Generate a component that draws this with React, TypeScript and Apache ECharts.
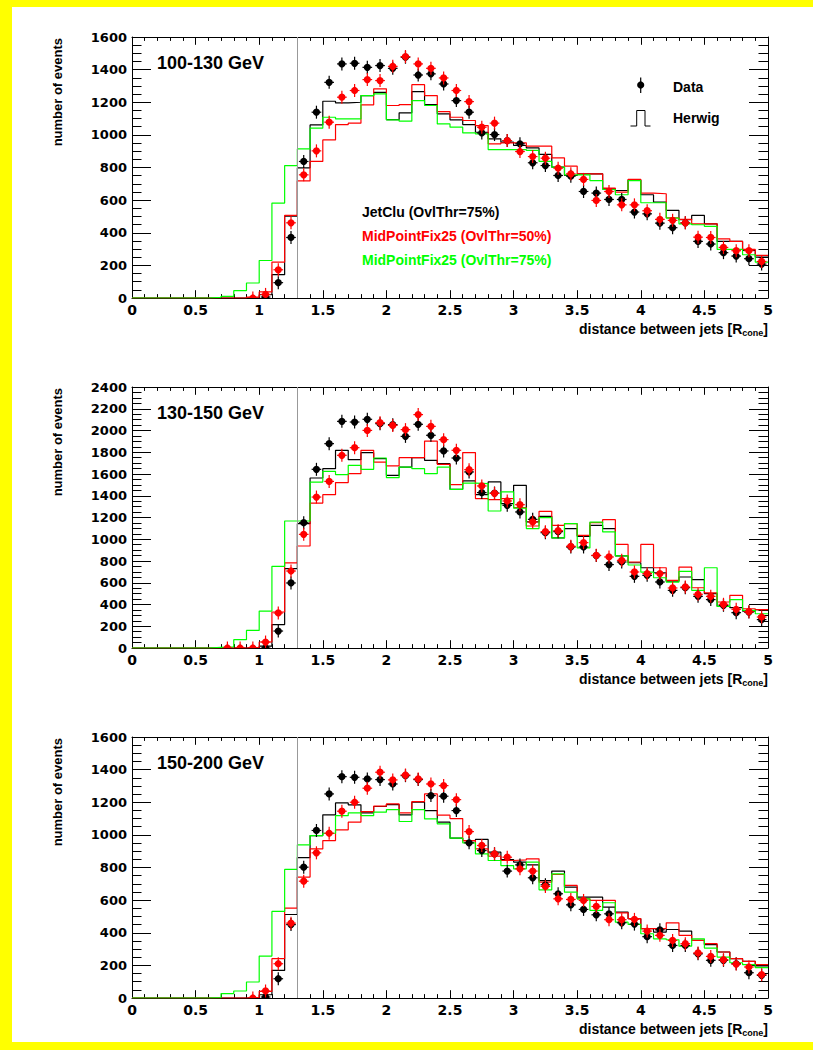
import React, { useEffect, useRef } from "react";
import * as echarts from "echarts";

// ---------- DATA ----------
const BIN_EDGES = [0, 0.1, 0.2, 0.3, 0.4, 0.5, 0.6, 0.7, 0.8, 0.9, 1.0, 1.1, 1.2, 1.3, 1.4, 1.5, 1.6, 1.7, 1.8, 1.9, 2.0, 2.1, 2.2, 2.3, 2.4, 2.5, 2.6, 2.7, 2.8, 2.9, 3.0, 3.1, 3.2, 3.3, 3.4, 3.5, 3.6, 3.7, 3.8, 3.9, 4.0, 4.1, 4.2, 4.3, 4.4, 4.5, 4.6, 4.7, 4.8, 4.9, 5.0];
const POINT_X = [0.75, 0.85, 0.95, 1.05, 1.15, 1.25, 1.35, 1.45, 1.55, 1.65, 1.75, 1.85, 1.95, 2.05, 2.15, 2.25, 2.35, 2.45, 2.55, 2.65, 2.75, 2.85, 2.95, 3.05, 3.15, 3.25, 3.35, 3.45, 3.55, 3.65, 3.75, 3.85, 3.95, 4.05, 4.15, 4.25, 4.35, 4.45, 4.55, 4.65, 4.75, 4.85, 4.95];
const X_TICKS = [0, 0.5, 1, 1.5, 2, 2.5, 3, 3.5, 4, 4.5, 5];
const PANEL_LABELS = ["100-130 GeV", "130-150 GeV", "150-200 GeV"];
const Y_MAX = [1600, 2400, 1600];
const CUT_X = 1.3;
const LEGEND_LABELS = ["JetClu (OvlThr=75%)", "MidPointFix25 (OvlThr=50%)", "MidPointFix25 (OvlThr=75%)"];

// Herwig histograms (one value per bin)
const P1_HERWIG_JETCLU = [0,0,0,0,0,0,0,0,0,0, 20,143,502,798,1061,1206,1196,1200,1241,1261, 1094,1135,1265,1186,1129,1092,1063,1016,976,955, 935,920,880,802,751,761,761,669,659,724, 633,588,537,480,506,455,347,347,292,251];
const P1_HERWIG_MP50 = [0,0,0,0,0,0,0,0,0,5, 37,220,506,718,837,969,1063,1072,1184,1282, 1180,1186,1308,1241,1143,1108,1088,1057,945,951, 951,931,931,859,808,761,761,673,649,727, 643,639,492,482,455,455,363,347,298,261];
const P1_HERWIG_MP75 = [0,0,0,0,0,0,4,10,45,92, 230,582,812,914,1041,1108,1098,1098,1241,1251, 1092,1084,1210,1180,1067,1047,1012,1006,910,910, 910,905,837,802,755,755,720,665,633,720, 584,584,490,455,449,439,298,298,265,220];

const P2_HERWIG_JETCLU = [0,0,0,0,0,0,0,0,0,0, 18,215,729,1143,1563,1649,1818,1732,1796,1741, 1588,1664,1750,1726,1695,1459,1536,1410,1527,1328, 1496,1159,1211,1012,1098,1027,1128,1098,848,784, 738,692,615,653,628,500,383,371,340,352];
const P2_HERWIG_MP50 = [0,0,0,0,0,0,0,0,0,5, 55,331,782,938,1333,1410,1521,1603,1818,1710, 1674,1750,1750,1903,1689,1502,1797,1374,1365,1374, 1290,1122,1257,1128,1143,1035,1152,1180,952,791, 952,738,621,744,554,506,423,484,361,352];
const P2_HERWIG_MP75 = [0,0,0,0,0,0,5,10,77,162, 340,751,1168,1168,1526,1625,1594,1680,1643,1747, 1566,1664,1649,1603,1664,1459,1517,1511,1260,1435, 1287,1098,1199,1012,1143,920,1158,1067,848,763, 698,646,606,704,530,738,383,444,346,315];

const P3_HERWIG_JETCLU = [0,0,0,0,0,0,0,0,0,0, 20,169,512,861,996,1123,1196,1184,1135,1174, 1186,1123,1200,1149,1078,980,965,972,894,849, 833,816,720,778,680,618,618,557,527,486, 425,404,420,410,353,327,282,241,225,190];
const P3_HERWIG_MP50 = [0,0,0,0,0,0,0,0,0,3, 41,241,551,741,914,965,1031,1078,1143,1176, 1190,1135,1204,1251,1121,1100,965,914,870,843, 847,853,710,757,690,608,598,598,522,486, 425,425,461,384,353,333,282,241,225,204];
const P3_HERWIG_MP75 = [0,0,0,0,0,0,2,27,43,98, 257,531,788,939,996,1010,1118,1135,1118,1139, 1155,1082,1155,1098,1067,980,951,884,843,812, 792,833,663,761,649,608,537,584,465,451, 394,363,357,318,363,306,251,216,204,186];

// Data points (at POINT_X)
const P1_DATA_JETCLU = [null, null, null, 6, 94, 371, 837, 1139, 1322, 1435, 1439, 1414, 1425, 1408, 1476, 1367, 1374, 1312, 1210, 1139, 1012, 1002, 965, 945, 829, 812, 751, 747, 653, 643, 604, 604, 527, 516, 459, 431, 461, 347, 331, 278, 257, 241, 208];
const P1_DATA_MP50 = [null, null, 0, 22, 173, 461, 755, 902, 1078, 1231, 1272, 1339, 1333, 1420, 1480, 1435, 1408, 1349, 1272, 1204, 1047, 1072, 965, 898, 867, 857, 796, 761, 727, 598, 653, 571, 571, 535, 482, 476, 461, 373, 371, 310, 290, 290, 224];
const P2_DATA_JETCLU = [null, null, null, 0, 156, 598, 1152, 1643, 1879, 2084, 2078, 2103, 2063, 2054, 1946, 2057, 1956, 1812, 1747, 1619, 1429, 1425, 1312, 1251, 1183, 1060, 1070, 929, 929, 850, 767, 791, 659, 668, 607, 530, 555, 475, 445, 393, 325, 330, 261];
const P2_DATA_MP50 = [0, 0, 0, 55, 322, 708, 1045, 1388, 1532, 1772, 1842, 2001, 2072, 2047, 2008, 2146, 2038, 1916, 1818, 1640, 1490, 1422, 1352, 1318, 1159, 1070, 1079, 935, 969, 852, 837, 806, 699, 684, 684, 552, 561, 494, 475, 402, 356, 334, 285];
const P3_DATA_JETCLU = [null, null, null, 6, 118, 450, 802, 1027, 1251, 1357, 1353, 1343, 1339, 1312, 1363, 1339, 1241, 1237, 1149, 951, 904, 884, 778, 816, 737, 694, 639, 571, 543, 510, 516, 461, 453, 376, 418, 322, 322, 271, 231, 231, 210, 155, 139];
const P3_DATA_MP50 = [null, null, 0, 43, 210, 459, 716, 890, 1010, 1145, 1200, 1286, 1384, 1337, 1367, 1343, 1312, 1302, 1216, 1020, 935, 884, 863, 792, 778, 684, 608, 604, 598, 561, 480, 480, 482, 410, 384, 353, 333, 276, 255, 235, 208, 190, 143];

const HISTS = [
  [P1_HERWIG_JETCLU, P1_HERWIG_MP50, P1_HERWIG_MP75],
  [P2_HERWIG_JETCLU, P2_HERWIG_MP50, P2_HERWIG_MP75],
  [P3_HERWIG_JETCLU, P3_HERWIG_MP50, P3_HERWIG_MP75],
];
const POINTS = [
  [P1_DATA_JETCLU, P1_DATA_MP50],
  [P2_DATA_JETCLU, P2_DATA_MP50],
  [P3_DATA_JETCLU, P3_DATA_MP50],
];

// ---------- STYLE ----------
const HIST_COLORS = ["#000000", "#ff0000", "#00ff00"];
const POINT_COLORS = ["#000000", "#ff0000"];
const FRAME_COLOR = "#ffff00";
const GRID_LEFT = 132;
const GRID_WIDTH = 636;
const GRID_HEIGHT = 261;
const GRID_TOPS = [37, 387, 737];
const ARIAL = '"Liberation Sans", Arial, Helvetica, sans-serif';
const DEJAVU = '"DejaVu Sans", sans-serif';

function measure(text: string, font: string): number {
  const c = document.createElement("canvas").getContext("2d");
  if (!c) return text.length * 7;
  c.font = font;
  return c.measureText(text).width;
}

export default function App() {
  const ref = useRef<HTMLDivElement>(null);

  useEffect(() => {
    document.body.style.margin = "0";
    document.body.style.overflow = "hidden";
    document.body.style.background = "#ffffff";
    if (!ref.current) return;
    const chart = echarts.init(ref.current, null, { renderer: "svg" });

    const grids: any[] = [];
    const xAxes: any[] = [];
    const yAxes: any[] = [];
    const series: any[] = [];
    const graphics: any[] = [];

    // yellow frame: left, top, bottom bands
    graphics.push({ type: "rect", z: -10, silent: true, shape: { x: 0, y: 0, width: 12, height: 1050 }, style: { fill: FRAME_COLOR } });
    graphics.push({ type: "rect", z: -10, silent: true, shape: { x: 0, y: 0, width: 813, height: 7 }, style: { fill: FRAME_COLOR } });
    graphics.push({ type: "rect", z: -10, silent: true, shape: { x: 0, y: 1042, width: 813, height: 8 }, style: { fill: FRAME_COLOR } });

    const axisLine = { show: true, onZero: false, lineStyle: { color: "#000", width: 1 } };

    for (let g = 0; g < 3; g++) {
      const top = GRID_TOPS[g];
      grids.push({ left: GRID_LEFT, top, width: GRID_WIDTH, height: GRID_HEIGHT, containLabel: false });
      const xb = xAxes.length;
      xAxes.push({
        gridIndex: g, type: "value", min: 0, max: 5, interval: 0.5, position: "bottom",
        axisLine, splitLine: { show: false },
        axisTick: { show: true, inside: true, length: 7.8, lineStyle: { color: "#000" } },
        minorTick: { show: true, splitNumber: 5, length: 3.9, lineStyle: { color: "#000" } },
        axisLabel: { show: true, margin: 5, color: "#000", fontFamily: DEJAVU, fontWeight: "bold", fontSize: 14, showMinLabel: true, showMaxLabel: true,
          formatter: (v: number) => { const t = X_TICKS.find((k) => Math.abs(k - v) < 1e-6); return t === undefined ? "" : String(t); } },
      });
      xAxes.push({
        gridIndex: g, type: "value", min: 0, max: 5, interval: 0.5, position: "top",
        axisLine, splitLine: { show: false },
        axisTick: { show: true, inside: true, length: 7.8, lineStyle: { color: "#000" } },
        minorTick: { show: true, splitNumber: 5, length: 3.9, lineStyle: { color: "#000" } },
        axisLabel: { show: false },
      });
      const yl = yAxes.length;
      yAxes.push({
        gridIndex: g, type: "value", min: 0, max: Y_MAX[g], interval: 200, position: "left",
        axisLine, splitLine: { show: false },
        axisTick: { show: true, inside: true, length: 19, lineStyle: { color: "#000" } },
        minorTick: { show: true, splitNumber: 4, length: 9.5, lineStyle: { color: "#000" } },
        axisLabel: { show: true, margin: 5, color: "#000", fontFamily: DEJAVU, fontWeight: "bold", fontSize: 13, formatter: (v: number) => String(Math.round(v)) },
      });
      yAxes.push({
        gridIndex: g, type: "value", min: 0, max: Y_MAX[g], interval: 200, position: "right",
        axisLine, splitLine: { show: false },
        axisTick: { show: true, inside: true, length: 19, lineStyle: { color: "#000" } },
        minorTick: { show: true, splitNumber: 4, length: 9.5, lineStyle: { color: "#000" } },
        axisLabel: { show: false },
      });

      HISTS[g].forEach((vals, k) => {
        const data = BIN_EDGES.map((e, i) => [e, vals[Math.min(i, vals.length - 1)]]);
        const s: any = {
          type: "line", step: "end", xAxisIndex: xb, yAxisIndex: yl, data, symbol: "none", silent: true,
          lineStyle: { color: HIST_COLORS[k], width: 1.2 }, z: 2 + k * 0.1,
        };
        if (k === 0) {
          s.markLine = {
            silent: true, symbol: "none", label: { show: false }, animation: false,
            lineStyle: { color: "#999999", width: 1, type: "solid" },
            data: [{ xAxis: CUT_X }],
          };
        }
        series.push(s);
      });

      POINTS[g].forEach((vals, k) => {
        const color = POINT_COLORS[k];
        const data = POINT_X.map((x, i) => [x, vals[i]]).filter((d) => d[1] !== null);
        series.push({
          type: "custom", xAxisIndex: xb, yAxisIndex: yl, data, silent: true, clip: true, z: 4 + k,
          encode: { x: 0, y: 1 },
          renderItem: (params: any, api: any) => {
            const x = api.value(0);
            const y = api.value(1);
            const c = api.coord([x, y]);
            const l = api.coord([x - 0.038, y]);
            const r = api.coord([x + 0.038, y]);
            return {
              type: "group",
              children: [
                { type: "line", shape: { x1: l[0], y1: c[1], x2: r[0], y2: c[1] }, style: { stroke: color, lineWidth: 1.2 } },
                { type: "line", shape: { x1: c[0], y1: c[1] - 6.5, x2: c[0], y2: c[1] + 6.5 }, style: { stroke: color, lineWidth: 1.2 } },
                { type: "circle", shape: { cx: c[0], cy: c[1], r: 3.6 }, style: { fill: color } },
              ],
            };
          },
        });
      });

      // panel label
      graphics.push({ type: "text", x: 157, y: top + 25.5, style: { text: PANEL_LABELS[g], font: `bold 18px ${ARIAL}`, fill: "#000", verticalAlign: "middle", align: "left" } });
      // y title
      graphics.push({ type: "text", x: 57, y: top + 1, rotation: Math.PI / 2, style: { text: "number of events", font: `bold 13px ${ARIAL}`, fill: "#000", align: "right", verticalAlign: "middle" } });
      // x title with subscript
      const mainFont = `bold 14px ${ARIAL}`;
      const subFont = `bold 9px ${ARIAL}`;
      const right = GRID_LEFT + GRID_WIDTH;
      const wClose = measure("]", mainFont);
      const wSub = measure("cone", subFont);
      const ty = top + GRID_HEIGHT + 30.5;
      graphics.push({ type: "text", x: right, y: ty, style: { text: "]", font: mainFont, fill: "#000", align: "right", verticalAlign: "middle" } });
      graphics.push({ type: "text", x: right - wClose, y: ty + 4, style: { text: "cone", font: subFont, fill: "#000", align: "right", verticalAlign: "middle" } });
      graphics.push({ type: "text", x: right - wClose - wSub, y: ty, style: { text: "distance between jets [R", font: mainFont, fill: "#000", align: "right", verticalAlign: "middle" } });
    }

    // legend texts (panel 1)
    LEGEND_LABELS.forEach((t, k) => {
      graphics.push({ type: "text", x: 362, y: 211.5 + k * 24, style: { text: t, font: `bold 14px ${ARIAL}`, fill: HIST_COLORS[k], align: "left", verticalAlign: "middle" } });
    });
    // Data / Herwig legend
    graphics.push({ type: "line", shape: { x1: 640.7, y1: 77.5, x2: 640.7, y2: 93 }, style: { stroke: "#000", lineWidth: 1.2 } });
    graphics.push({ type: "circle", shape: { cx: 640.7, cy: 85, r: 3.6 }, style: { fill: "#000" } });
    graphics.push({ type: "text", x: 673, y: 86.5, style: { text: "Data", font: `bold 14px ${ARIAL}`, fill: "#000", align: "left", verticalAlign: "middle" } });
    graphics.push({ type: "polyline", shape: { points: [[630.5, 126], [636.7, 126], [636.7, 110.5], [645, 110.5], [645, 126], [650.5, 126]] }, style: { stroke: "#000", lineWidth: 1, fill: null } });
    graphics.push({ type: "text", x: 673, y: 117.5, style: { text: "Herwig", font: `bold 14px ${ARIAL}`, fill: "#000", align: "left", verticalAlign: "middle" } });

    chart.setOption({
      animation: false,
      backgroundColor: "#ffffff",
      grid: grids,
      xAxis: xAxes,
      yAxis: yAxes,
      series,
      graphic: { elements: graphics },
    });

    return () => chart.dispose();
  }, []);

  return <div ref={ref} style={{ width: 813, height: 1050 }} />;
}
